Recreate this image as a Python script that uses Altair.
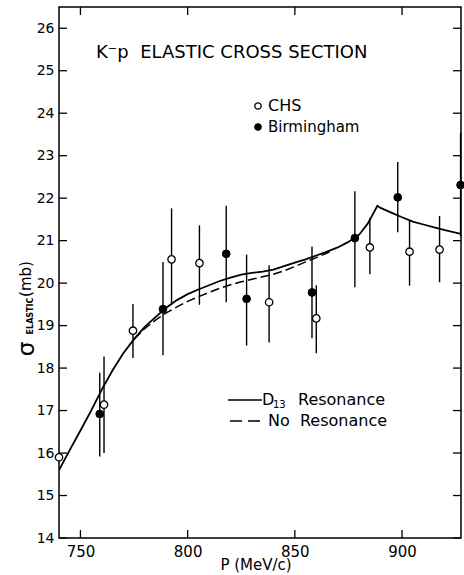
import altair as alt
import pandas as pd

# ---- data ----
chs_p = [740, 761, 774.5, 792.5, 805.5, 838, 860, 885, 903.5, 917.5]
chs_s = [15.9, 17.14, 18.88, 20.56, 20.47, 19.55, 19.17, 20.84, 20.74, 20.79]
chs_lo = [15.85, 16.0, 18.24, 19.5, 19.49, 18.6, 18.35, 20.21, 19.94, 20.02]
chs_hi = [15.95, 18.27, 19.51, 21.76, 21.36, 20.42, 19.95, 21.53, 21.49, 21.58]

bir_p = [759, 788.5, 818, 827.5, 858, 878, 898, 927.3]
bir_s = [16.92, 19.39, 20.69, 19.63, 19.78, 21.06, 22.02, 22.31]
bir_lo = [15.92, 18.3, 19.55, 18.53, 18.7, 19.9, 21.2, 21.1]
bir_hi = [17.89, 20.5, 21.82, 20.67, 20.86, 22.16, 22.85, 23.54]

d13_p = [740, 745, 750, 755, 760, 765, 770, 775, 780, 785, 790, 795, 800, 805,
         810, 815, 820, 825, 830, 835, 840, 845, 850, 855, 860, 865, 870, 875,
         880, 884, 888.5, 890, 895, 900, 905, 910, 915, 920, 927.5]
d13_s = [15.6, 16.07, 16.53, 17.0, 17.5, 17.95, 18.35, 18.68, 18.97, 19.2, 19.42,
         19.6, 19.74, 19.85, 19.95, 20.05, 20.13, 20.2, 20.24, 20.27, 20.32, 20.4,
         20.48, 20.56, 20.65, 20.74, 20.84, 20.97, 21.14, 21.4, 21.82, 21.77,
         21.66, 21.55, 21.45, 21.38, 21.31, 21.25, 21.16]

nores_p = [775, 780, 785, 790, 795, 800, 805, 810, 815, 820, 825, 830, 835, 840,
           845, 850, 855, 860, 865, 868]
nores_s = [18.68, 18.93, 19.13, 19.3, 19.44, 19.57, 19.68, 19.78, 19.88, 19.96,
           20.03, 20.09, 20.15, 20.21, 20.29, 20.39, 20.5, 20.6, 20.71, 20.78]

x_ticks = [750, 800, 850, 900]
y_ticks = [14, 15, 16, 17, 18, 19, 20, 21, 22, 23, 24, 25, 26]

# ---- layout ----
W, H = 402, 531
LEFT, TOP = 59, 7
FONT = "DejaVu Sans"
NB = "\u00a0"

xs = alt.Scale(domain=[740, 927.5], nice=False, zero=False)
ys = alt.Scale(domain=[14, 26.5], nice=False, zero=False)

chs = pd.DataFrame({"p": chs_p, "s": chs_s, "lo": chs_lo, "hi": chs_hi})
bir = pd.DataFrame({"p": bir_p, "s": bir_s, "lo": bir_lo, "hi": bir_hi})
d13 = pd.DataFrame({"p": d13_p, "s": d13_s})
nores = pd.DataFrame({"p": nores_p, "s": nores_s})
xt = pd.DataFrame({"v": x_ticks})
yt = pd.DataFrame({"v": y_ticks})

X = alt.X("p:Q", scale=xs, axis=alt.Axis(values=x_ticks, ticks=False, domain=False,
          grid=False, title=None, labelFont=FONT, labelFontSize=15, labelColor="black",
          labelPadding=6))
Y = alt.Y("s:Q", scale=ys, axis=alt.Axis(values=y_ticks, ticks=False, domain=False,
          grid=False, title=None, labelFont=FONT, labelFontSize=14, labelColor="black",
          labelPadding=5))

bars_c = alt.Chart(chs).mark_rule(color="black", strokeWidth=1.4).encode(
    x=X, y=alt.Y("lo:Q", scale=ys), y2="hi:Q")
bars_b = alt.Chart(bir).mark_rule(color="black", strokeWidth=1.4).encode(
    x=X, y=alt.Y("lo:Q", scale=ys), y2="hi:Q")

line_d13 = alt.Chart(d13).mark_line(color="black", strokeWidth=1.8, clip=True).encode(
    x=X, y=Y, order="p:Q")
line_nores = alt.Chart(nores).mark_line(color="black", strokeWidth=1.5,
                                         strokeDash=[9, 4]).encode(x=X, y=Y, order="p:Q")

pts_c = alt.Chart(chs).mark_point(shape="circle", filled=True, fill="white",
                                  stroke="black", strokeWidth=1.3, size=55, opacity=1).encode(x=X, y=Y)
pts_b = alt.Chart(bir).mark_point(shape="circle", filled=True, fill="black",
                                  stroke="black", strokeWidth=1, size=60, opacity=1).encode(x=X, y=Y)

# inward ticks on all four sides
TL = 8
tick_l = alt.Chart(yt).mark_rule(color="black", strokeWidth=1.3).encode(
    y=alt.Y("v:Q", scale=ys), x=alt.value(0), x2=alt.value(TL))
tick_r = alt.Chart(yt).mark_rule(color="black", strokeWidth=1.3).encode(
    y=alt.Y("v:Q", scale=ys), x=alt.value(W - TL), x2=alt.value(W))
tick_b = alt.Chart(xt).mark_rule(color="black", strokeWidth=1.3).encode(
    x=alt.X("v:Q", scale=xs), y=alt.value(H), y2=alt.value(H - TL))
tick_t = alt.Chart(xt).mark_rule(color="black", strokeWidth=1.3).encode(
    x=alt.X("v:Q", scale=xs), y=alt.value(0), y2=alt.value(TL))


def label(text, px, py, size, align="left", angle=0, weight="normal"):
    kw = dict(align=align, baseline="middle", font=FONT, fontSize=size,
              fontWeight=weight, color="black")
    if angle:
        kw["angle"] = angle
    return alt.Chart(pd.DataFrame({"t": [text]})).mark_text(**kw).encode(
        text="t:N", x=alt.value(px - LEFT), y=alt.value(py - TOP))


def key_point(px, py, filled):
    return alt.Chart(pd.DataFrame({"t": [0]})).mark_point(
        shape="circle", filled=True, fill="black" if filled else "white",
        stroke="black", strokeWidth=1.3, size=40, opacity=1).encode(
        x=alt.value(px - LEFT), y=alt.value(py - TOP))


def key_line(x1, x2, py, dash=None):
    kw = dict(color="black", strokeWidth=1.6)
    if dash:
        kw["strokeDash"] = dash
    return alt.Chart(pd.DataFrame({"t": [0]})).mark_rule(**kw).encode(
        x=alt.value(x1 - LEFT), x2=alt.value(x2 - LEFT), y=alt.value(py - TOP))


texts = [
    label("K⁻p" + NB + " ELASTIC CROSS SECTION", 96, 53, 18),
    key_point(258, 106, False),
    label("CHS", 268, 106, 16),
    key_point(258, 127, True),
    label("Birmingham", 268, 127, 15),
    key_line(228, 262, 400),
    label("D", 262, 400, 16),
    label("13", 273, 405, 10),
    label("Resonance", 298, 400, 16),
    key_line(230, 262, 421, dash=[12, 6]),
    label("No" + NB + " Resonance", 268, 421, 16),
    label("σ", 27, 349, 23, align="center", angle=270),
    label("ELASTIC", 31, 316, 8, align="center", angle=270, weight="bold"),
    label("(mb)", 26, 279, 15, align="center", angle=270),
    label("P (MeV/c)", 256, 565, 15, align="center"),
]

chart = alt.layer(
    bars_c, bars_b, line_d13, line_nores, pts_c, pts_b,
    tick_l, tick_r, tick_b, tick_t, *texts
).properties(
    width=W, height=H,
    autosize=alt.AutoSizeParams(type="none"),
    padding={"left": LEFT, "top": TOP, "right": 464 - LEFT - W, "bottom": 575 - TOP - H},
    background="white",
).configure_view(stroke="black", strokeWidth=1.5)

chart.save("out.html", embed_options={"renderer": "svg", "actions": False})
